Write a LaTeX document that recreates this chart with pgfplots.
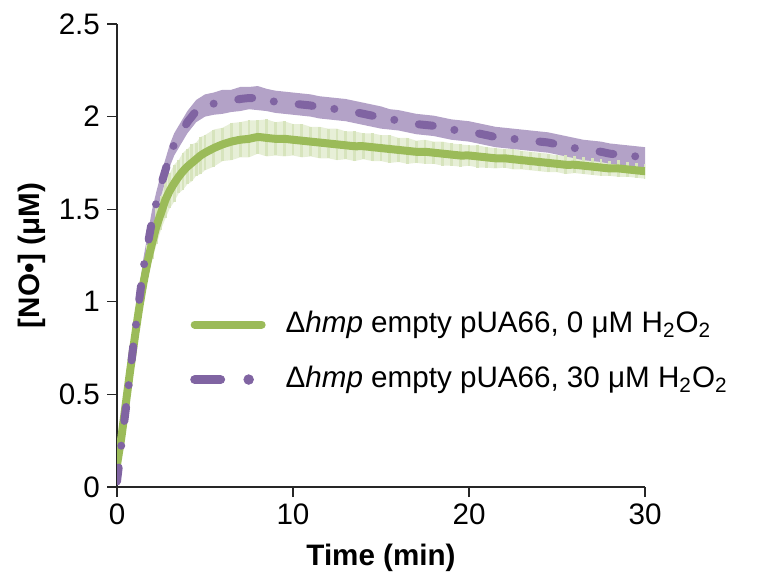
\documentclass[border=0pt]{standalone}
\usepackage{pgfplots}
\pgfplotsset{compat=1.18}
\usepackage{pgfplotstable}
\usepgfplotslibrary{fillbetween}
\usepackage{fontspec}
\setmainfont{Liberation Sans}
\definecolor{grn}{HTML}{9BBB59}
\definecolor{grnlt}{HTML}{D7E4BD}
\definecolor{pur}{HTML}{8064A2}
\definecolor{purlt}{HTML}{B3A2C7}
\pgfplotstableread{
t g ge p pe
0 0.12 0.02 0.03 0.02
0.25 0.27 0.03 0.23 0.03
0.5 0.45 0.04 0.42 0.04
0.75 0.63 0.05 0.62 0.045
1.0 0.80 0.06 0.82 0.05
1.25 0.96 0.07 1.00 0.055
1.5 1.10 0.08 1.18 0.055
1.75 1.22 0.085 1.31 0.06
2.0 1.32 0.09 1.44 0.06
2.25 1.41 0.10 1.54 0.06
2.5 1.48 0.09 1.63 0.06
2.75 1.55 0.10 1.71 0.06
3.0 1.60 0.095 1.79 0.06
3.25 1.64 0.10 1.85 0.06
3.5 1.675 0.09 1.89 0.06
3.75 1.705 0.10 1.93 0.06
4.0 1.73 0.095 1.97 0.06
4.25 1.75 0.10 2.00 0.06
4.5 1.77 0.09 2.03 0.06
4.75 1.79 0.10 2.045 0.06
5.0 1.805 0.095 2.06 0.06
5.5 1.83 0.10 2.07 0.06
6.0 1.85 0.09 2.08 0.065
6.5 1.865 0.10 2.085 0.06
7.0 1.875 0.095 2.095 0.065
7.5 1.88 0.10 2.10 0.06
8.0 1.89 0.09 2.10 0.065
8.5 1.885 0.10 2.09 0.06
9.0 1.88 0.09 2.08 0.06
9.5 1.88 0.095 2.075 0.06
10 1.875 0.085 2.07 0.06
10.5 1.87 0.09 2.065 0.06
11 1.865 0.08 2.06 0.06
11.5 1.86 0.085 2.05 0.06
12 1.855 0.08 2.045 0.06
12.5 1.85 0.085 2.04 0.06
13 1.845 0.075 2.035 0.06
13.5 1.84 0.08 2.025 0.06
14 1.84 0.07 2.015 0.06
14.5 1.835 0.075 2.005 0.06
15 1.83 0.07 1.995 0.06
15.5 1.825 0.075 1.985 0.055
16 1.82 0.065 1.98 0.055
16.5 1.815 0.07 1.97 0.055
17 1.81 0.06 1.96 0.055
17.5 1.81 0.065 1.955 0.055
18 1.805 0.06 1.95 0.055
18.5 1.80 0.065 1.94 0.055
19 1.795 0.06 1.93 0.055
19.5 1.79 0.06 1.925 0.055
20 1.79 0.055 1.92 0.055
20.5 1.785 0.06 1.91 0.055
21 1.78 0.055 1.90 0.055
21.5 1.775 0.055 1.89 0.055
22 1.775 0.05 1.885 0.055
22.5 1.77 0.055 1.88 0.055
23 1.765 0.05 1.875 0.055
23.5 1.76 0.05 1.87 0.055
24 1.755 0.05 1.865 0.055
24.5 1.75 0.05 1.86 0.055
25 1.745 0.045 1.85 0.055
25.5 1.74 0.05 1.84 0.055
26 1.74 0.045 1.83 0.055
26.5 1.735 0.045 1.82 0.055
27 1.73 0.045 1.815 0.055
27.5 1.725 0.045 1.81 0.055
28 1.72 0.04 1.80 0.055
28.5 1.72 0.045 1.795 0.055
29 1.715 0.04 1.79 0.055
29.5 1.71 0.04 1.785 0.055
30 1.705 0.04 1.78 0.055
}\data
\begin{document}
\begin{tikzpicture}
\begin{axis}[
  name=ax,
  scale only axis,
  width=264pt, height=231.5pt,
  xmin=0, xmax=30, ymin=0, ymax=2.5,
  axis x line*=bottom, axis y line*=left,
  axis line style={line width=0.6pt, color=black!85},
  tick style={line width=0.6pt, color=black!85},
  tick align=outside,
  major tick length=5pt,
  xtick={0,10,20,30},
  ytick={0,0.5,1,1.5,2,2.5},
  yticklabels={0,0.5,1,1.5,2,2.5},
  /pgf/number format/assume math mode=true,
  ticklabel style={font=\fontsize{14.8}{17}\selectfont},
  xlabel={\textbf{Time (min)}},
  ylabel={\textbf{[NO•] (μM)}},
  label style={font=\fontsize{14.8}{17}\selectfont},
  xlabel style={at={(axis description cs:0.5,-0.153)}, anchor=center},
  ylabel style={at={(axis description cs:-0.161,0.5)}, anchor=center},
  legend style={at={(axis description cs:0.138,0.382)}, anchor=north west,
    draw=none, fill=none, inner sep=0pt,
    font=\fontsize{14.8}{17}\selectfont,
    nodes={inner sep=0pt, text height=11pt, text depth=3pt},
    row sep=13.5pt},
  legend cell align=left,
  legend columns=1,
  /tikz/every odd column/.append style={column sep=10pt},
]
% green error bars
\addplot[draw=none, forget plot, name path=gu] table[x=t, y expr=\thisrow{g}+\thisrow{ge}] {\data};
\addplot[draw=none, forget plot, name path=gl] table[x=t, y expr=\thisrow{g}-\thisrow{ge}] {\data};
\addplot[fill=grnlt, fill opacity=0.6, draw=none, forget plot] fill between[of=gu and gl];
\addplot[draw=none, mark=none, forget plot,
  error bars/.cd, y dir=both, y explicit,
  error bar style={draw=grnlt, line width=1.4pt}, error mark=none]
  table[x=t, y=g, y error=ge] {\data};
% purple band
\addplot[draw=none, forget plot, name path=pu] table[x=t, y expr=\thisrow{p}+\thisrow{pe}] {\data};
\addplot[draw=none, forget plot, name path=pl] table[x=t, y expr=\thisrow{p}-\thisrow{pe}] {\data};
\addplot[fill=purlt, draw=none, forget plot] fill between[of=pu and pl];
% lines
\addplot[grn, line width=4pt, line cap=round, smooth, tension=0.3,
  legend image code/.code={\draw[grn, solid, line width=4pt, line cap=round] (2pt,0pt) -- (35.5pt,0pt);}]
  table[x=t, y=g] {\data};
\addlegendentry{Δ\textit{hmp} empty pUA66, 0 μM H\textsubscript{2}O\textsubscript{2}}
\addplot[pur, line width=4pt, line cap=round, smooth, tension=0.3, forget plot,
  dash pattern=on 7pt off 11pt on 0pt off 12.5pt]
  table[x=t, y=p] {\data};
\addlegendimage{pur, legend image code/.code={\fill[pur, rounded corners=2pt] (0pt,-2pt) rectangle (17pt,2pt); \fill[pur] (29pt,0pt) circle (2.4pt);}}
\addlegendentry{Δ\textit{hmp} empty pUA66, 30 μM H\textsubscript{2}O\textsubscript{2}}
\end{axis}
\pgfresetboundingbox
\path ([xshift=-58.5pt, yshift=-46.5pt]ax.south west) rectangle ([xshift=58.5pt, yshift=12pt]ax.north east);
\end{tikzpicture}
\end{document}
